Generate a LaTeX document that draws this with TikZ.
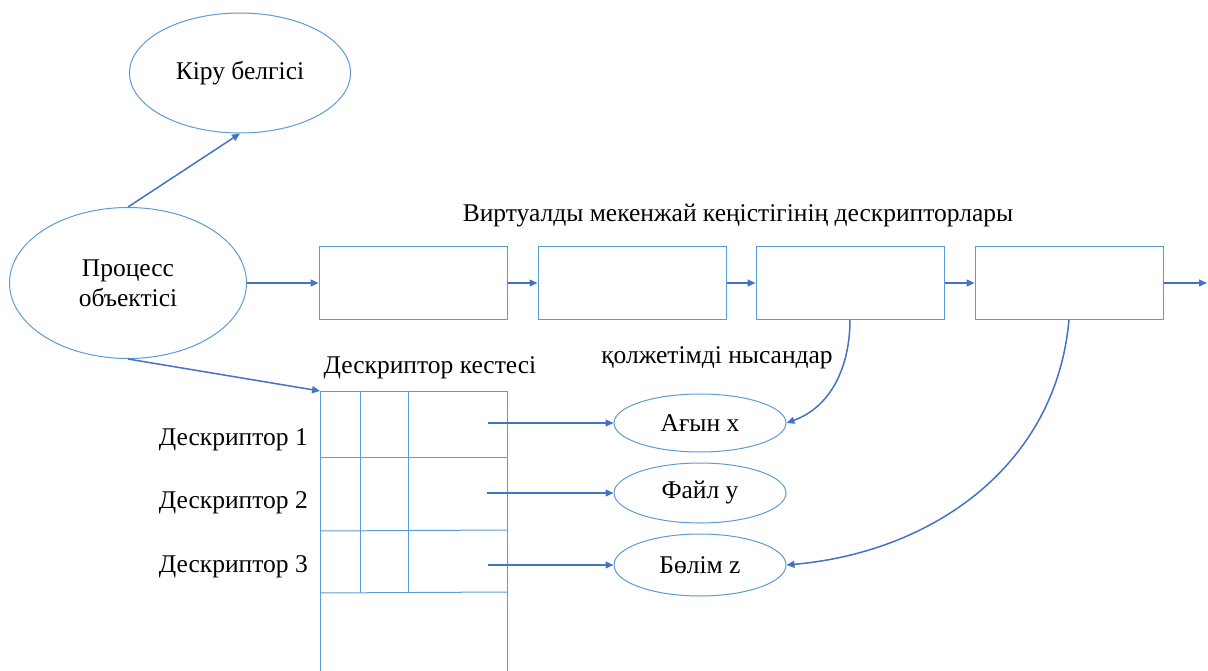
\documentclass[tikz,border=0pt]{standalone}
\usepackage{fontspec}
\setmainfont{Liberation Serif}
\usetikzlibrary{shapes.geometric,arrows.meta}
\definecolor{edgeblue}{RGB}{91,155,213}
\definecolor{arrowblue}{RGB}{68,114,196}
\tikzset{
  oval/.style={ellipse, draw=edgeblue, line width=1pt, inner sep=0pt, align=center,
    font=\fontsize{25.5}{30}\selectfont},
  vbox/.style={rectangle, draw=edgeblue, line width=1pt, minimum width=188pt,
    minimum height=72pt, inner sep=0pt},
  link/.style={draw=arrowblue, line width=1.5pt, -{Triangle[length=8pt,width=7pt]}},
  txt/.style={font=\fontsize{25.5}{30}\selectfont, inner sep=0pt}
}

\begin{document}
\begin{tikzpicture}[x=1pt,y=-1pt]
	\useasboundingbox (0,0) rectangle (1208,671);
	% process object and its sign
	\node[oval, minimum width=221pt, minimum height=120pt] (kiru) at (240,73) {Кіру белгісі};
	\node[oval, minimum width=237pt, minimum height=151pt] (proc) at (128,283) {Процесс\\объектісі};
	\draw[link] (proc.north) -- (kiru.south);
	% virtual address space descriptors
	\node[txt] (vtitle) at (738,216) {Виртуалды мекенжай кеңістігінің дескрипторлары};
	\foreach \i/\x in {1/413,2/632,3/850,4/1069}
		\node[vbox] (v\i) at (\x,283) {};
	\coordinate (vend) at (1207,283);
	\draw[link] (proc.east) -- (v1.west);
	\draw[link] (v1.east) -- (v2.west);
	\draw[link] (v2.east) -- (v3.west);
	\draw[link] (v3.east) -- (v4.west);
	\draw[link] (v4.east) -- (vend);
	% descriptor table
	\node[txt] (ttitle) at (430,368) {Дескриптор кестесі};
	\coordinate (tbl) at (320,391);
	\draw[edgeblue, line width=1pt] (320,671) -- (tbl) -- (507,391) -- (507,671);
	\draw[edgeblue, line width=1pt] (360,391) -- (360,593);
	\draw[edgeblue, line width=1pt] (408,391) -- (408,592);
	\draw[edgeblue, line width=1pt] (320,457) -- (507,457);
	\draw[edgeblue, line width=1pt] (320,531) -- (507,530);
	\draw[edgeblue, line width=1pt] (320,593) -- (507,592);
	\draw[link] (proc.south) -- (tbl);
	\node[txt, anchor=east] (d1) at (308,440) {Дескриптор 1};
	\node[txt, anchor=east] (d2) at (308,503) {Дескриптор 2};
	\node[txt, anchor=east] (d3) at (308,567) {Дескриптор 3};
	% accessible objects
	\node[txt] (otitle) at (717,358) {қолжетімді нысандар};
	\node[oval, minimum width=172pt, minimum height=58pt] (obj1) at (700,423) {Ағын x};
	\node[oval, minimum width=172pt, minimum height=60pt] (obj2) at (700,493) {Файл у};
	\node[oval, minimum width=172pt, minimum height=62pt] (obj3) at (700,565) {Бөлім z};
	\coordinate (p1) at (488,423);
	\coordinate (p2) at (487,493);
	\coordinate (p3) at (488,565);
	\draw[link] (p1) -- (obj1.west);
	\draw[link] (p2) -- (obj2.west);
	\draw[link] (p3) -- (obj3.west);
	\draw[link] (v3.south) to[out=-90, in=20] (obj1.east);
	\draw[link] (v4.south) to[out=-95, in=5] (obj3.east);
\end{tikzpicture}
\end{document}
